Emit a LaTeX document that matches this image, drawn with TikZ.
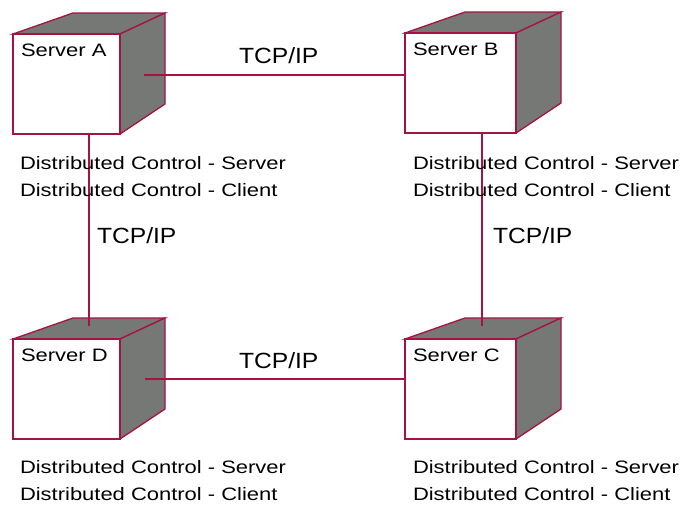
\documentclass[tikz,border=0pt]{standalone}
\usepackage{fontspec}
\setmainfont{Liberation Sans}
\definecolor{crim}{RGB}{165,20,65}
\definecolor{shade}{RGB}{118,120,118}
\newcommand\pixtext[1]{{\fontsize{18}{21}\selectfont\scalebox{1.22}[1]{#1}}}
\newcommand\bigtext[1]{{\fontsize{22}{26}\selectfont\scalebox{1.12}[1]{#1}}}
% #1 name, #2 x, #3 y, #4 front width, #5 label
\newcommand\srvbox[5]{%
  \begin{scope}[shift={(#2,#3)}]
    \filldraw[face] (0,0) -- (60,-21) -- (#4+45,-21) -- (#4,0) -- cycle;
    \filldraw[face] (#4,0) -- (#4+45,-21) -- (#4+45,70) -- (#4,100) -- cycle;
  \end{scope}
  \node[frontface, minimum width=#4pt, anchor=north west] (#1) at (#2,#3) {};
  \node[txt] (#1lab) at (#2+8,#3+22) {\pixtext{#5}};
}
\begin{document}
\begin{tikzpicture}[x=1pt,y=-1pt,
  face/.style={fill=shade, draw=crim, line width=1.3pt, line join=miter},
  frontface/.style={draw=crim, fill=white, line width=1.5pt, minimum height=100pt, inner sep=0pt, outer sep=0pt},
  txt/.style={anchor=base west, inner sep=0pt, outer sep=0pt},
  link/.style={draw=crim, line width=1.3pt}]
\useasboundingbox (0,0) rectangle (683,507);
\fill[white] (0,0) rectangle (683,507);

\srvbox{A}{13}{34}{107}{Server A}
\srvbox{B}{405}{33}{111}{Server B}
\srvbox{D}{13}{339}{107}{Server D}
\srvbox{C}{405}{339}{111}{Server C}

\coordinate (Aport) at (144,75);
\coordinate (Dport) at (145,379);
\coordinate (Dtop) at (89,326);
\coordinate (Ctop) at (482,326);

\draw[link] (Aport) -- (Aport -| B.west);
\draw[link] (Dport) -- (Dport -| C.west);
\draw[link] (Dtop |- A.south) -- (Dtop);
\draw[link] (Ctop |- B.south) -- (Ctop);

\node[txt] (tAB) at (239,63) {\bigtext{TCP/IP}};
\node[txt] (tDC) at (239,368) {\bigtext{TCP/IP}};
\node[txt] (tAD) at (97,243) {\bigtext{TCP/IP}};
\node[txt] (tBC) at (493,243) {\bigtext{TCP/IP}};

\node[txt] (sA1) at (20,169) {\pixtext{Distributed Control - Server}};
\node[txt] (sA2) at (20,196) {\pixtext{Distributed Control - Client}};
\node[txt] (sB1) at (413,169) {\pixtext{Distributed Control - Server}};
\node[txt] (sB2) at (413,196) {\pixtext{Distributed Control - Client}};
\node[txt] (sD1) at (20,473) {\pixtext{Distributed Control - Server}};
\node[txt] (sD2) at (20,500) {\pixtext{Distributed Control - Client}};
\node[txt] (sC1) at (413,473) {\pixtext{Distributed Control - Server}};
\node[txt] (sC2) at (413,500) {\pixtext{Distributed Control - Client}};
\end{tikzpicture}
\end{document}
